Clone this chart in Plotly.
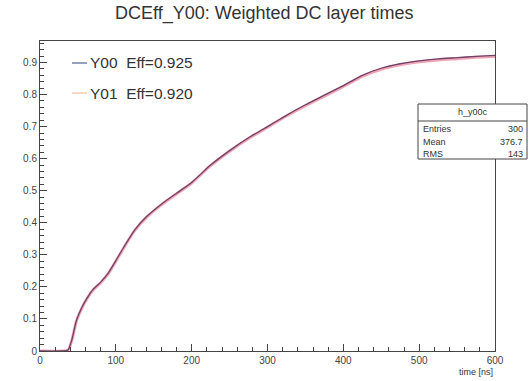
import plotly.graph_objects as go

# ---- data ----
time_ns = [0, 30, 37, 42, 48, 55, 62, 70, 80, 90, 100, 110, 125, 140, 160, 180, 200, 225, 250, 275, 300,
           325, 350, 375, 400, 425, 450, 475, 500, 525, 550, 575, 600]
eff_y00 = [0, 0, 0.003, 0.035, 0.095, 0.135, 0.165, 0.192, 0.215, 0.243, 0.282, 0.322, 0.378, 0.418, 0.458,
           0.492, 0.526, 0.58, 0.625, 0.665, 0.70, 0.735, 0.768, 0.798, 0.828, 0.860, 0.882, 0.896, 0.905,
           0.911, 0.915, 0.919, 0.922]
eff_y01 = [0, 0, 0.003, 0.033, 0.093, 0.133, 0.163, 0.190, 0.213, 0.241, 0.280, 0.320, 0.376, 0.416, 0.456,
           0.490, 0.524, 0.578, 0.623, 0.663, 0.698, 0.733, 0.765, 0.795, 0.825, 0.857, 0.879, 0.893, 0.902,
           0.908, 0.912, 0.916, 0.919]
labels = ["Y00  Eff=0.925", "Y01  Eff=0.920"]
y_ticks = [0, 0.1, 0.2, 0.3, 0.4, 0.5, 0.6, 0.7, 0.8, 0.9]
y_ticktext = ["0", "0.1", "0.2", "0.3", "0.4", "0.5", "0.6", "0.7", "0.8", "0.9"]
x_ticks = [0, 100, 200, 300, 400, 500, 600]
stats_name = "h_y00c"
stats_rows = [("Entries", "300"), ("Mean", "376.7"), ("RMS", "143")]

FONT = "Liberation Sans, Arial, sans-serif"
fig = go.Figure()
fig.add_trace(go.Scatter(x=time_ns, y=eff_y01, mode="lines", name=labels[1],
                         line=dict(color="#f2a4b4", width=3, shape="spline", smoothing=0.6), showlegend=False))
fig.add_trace(go.Scatter(x=time_ns, y=eff_y00, mode="lines", name=labels[0],
                         line=dict(color="#6e4268", width=1.3, shape="spline", smoothing=0.6), showlegend=False))

L, R, T, B = 40, 34, 41, 30
W, H = 529, 381
pw, ph = W - L - R, H - T - B

def px(x):
    return (x - L) / pw

def py(y):
    return (H - B - y) / ph

shapes = []
annotations = []
# legend (manual, ROOT style)
leg_colors = ["#5c6c98", "#f2c0a8"]
leg_rows = [63, 93]
for lab, col, yy in zip(labels, leg_colors, leg_rows):
    shapes.append(dict(type="line", xref="paper", yref="paper", x0=px(72), x1=px(87),
                       y0=py(yy), y1=py(yy), line=dict(color=col, width=1.3)))
    annotations.append(dict(xref="paper", yref="paper", x=px(88), y=py(yy), text=lab,
                            showarrow=False, xanchor="left", yanchor="middle",
                            font=dict(family=FONT, size=15.5, color="#333")))

# stats box
bx0, bx1, by0, by1, sep = 418, 527, 104, 159, 121
shapes.append(dict(type="rect", xref="paper", yref="paper", x0=px(bx0), x1=px(bx1),
                   y0=py(by1), y1=py(by0), line=dict(color="#444", width=1), fillcolor="white"))
shapes.append(dict(type="line", xref="paper", yref="paper", x0=px(bx0), x1=px(bx1),
                   y0=py(sep), y1=py(sep), line=dict(color="#444", width=1)))
annotations.append(dict(xref="paper", yref="paper", x=px((bx0 + bx1) / 2), y=py(112.5), text=stats_name,
                        showarrow=False, xanchor="center", yanchor="middle",
                        font=dict(family=FONT, size=9, color="#333")))
for i, (k, v) in enumerate(stats_rows):
    yy = 129 + i * 12.5
    annotations.append(dict(xref="paper", yref="paper", x=px(421), y=py(yy), text=k,
                            showarrow=False, xanchor="left", yanchor="middle",
                            font=dict(family=FONT, size=9, color="#333")))
    annotations.append(dict(xref="paper", yref="paper", x=px(525), y=py(yy), text=v,
                            showarrow=False, xanchor="right", yanchor="middle",
                            font=dict(family=FONT, size=9, color="#333")))
# axis title
annotations.append(dict(xref="paper", yref="paper", x=px(495), y=py(372), text="time [ns]",
                        showarrow=False, xanchor="right", yanchor="middle",
                        font=dict(family=FONT, size=9, color="#333")))
# title
annotations.append(dict(xref="paper", yref="paper", x=px(264), y=py(14),
                        text="DCEff_Y00: Weighted DC layer times",
                        showarrow=False, xanchor="center", yanchor="middle",
                        font=dict(family=FONT, size=18, color="#333")))

fig.update_layout(
    width=W, height=H,
    margin=dict(l=L, r=R, t=T, b=B),
    paper_bgcolor="white", plot_bgcolor="white",
    shapes=shapes, annotations=annotations,
    showlegend=False,
)
fig.update_xaxes(range=[0, 600], tickvals=x_ticks, ticks="inside", ticklen=7, tickcolor="#444",
                 showline=True, linecolor="#444", linewidth=1, mirror=True, showgrid=False, zeroline=False,
                 tickfont=dict(family=FONT, size=10, color="#444"),
                 minor=dict(dtick=20, ticks="inside", ticklen=4, tickcolor="#444", showgrid=False))
fig.update_yaxes(range=[0, 0.967], tickvals=y_ticks, ticktext=y_ticktext, ticks="inside", ticklen=7,
                 tickcolor="#444", showline=True, linecolor="#444", linewidth=1, mirror=True,
                 showgrid=False, zeroline=False,
                 tickfont=dict(family=FONT, size=10, color="#444"),
                 minor=dict(dtick=0.02, ticks="inside", ticklen=4, tickcolor="#444", showgrid=False))

fig.write_html("out.html")
